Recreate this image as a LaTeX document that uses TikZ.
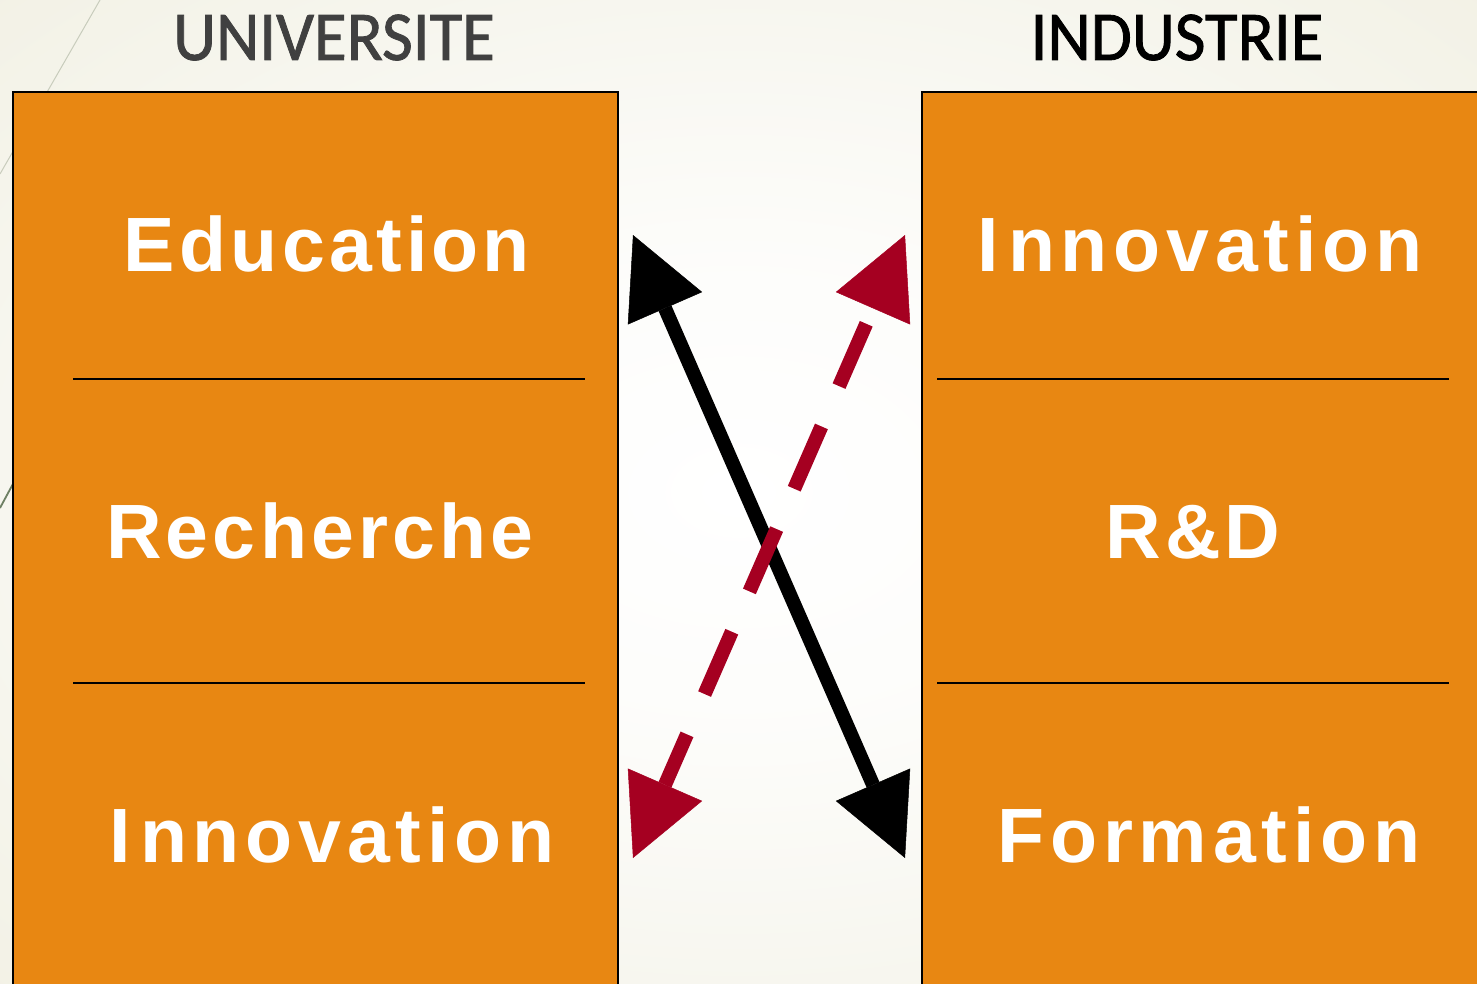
\documentclass[tikz,border=0pt]{standalone}
\usepackage{fontspec}
\setmainfont{Liberation Sans}
\newfontfamily\titlefont[FakeBold=1.2]{Carlito}
\newfontfamily\boxfont[LetterSpace=5.5]{Liberation Sans}
\newfontfamily\boxfontwide[LetterSpace=7.5]{Liberation Sans}
\usetikzlibrary{arrows.meta}
\definecolor{boxorange}{RGB}{232,135,18}
\definecolor{arrowred}{RGB}{165,0,33}
\definecolor{cream}{RGB}{231,229,207}
\definecolor{titlegray}{RGB}{64,64,64}
\definecolor{decoline}{RGB}{200,204,188}
\definecolor{decogreen}{RGB}{110,128,100}
\pgfdeclareradialshading{bgshade}{\pgfpoint{0bp}{0bp}}{color(0bp)=(white); color(12bp)=(white!90!cream); color(48bp)=(cream!75!white); color(72bp)=(cream)}
\tikzset{
  boxpanel/.style={fill=boxorange, draw=black, line width=1.6pt, anchor=north west, inner sep=0pt},
  divider/.style={draw=black, line width=1.3pt},
  boxlabel/.style={text=white, font=\boxfont\bfseries\fontsize{77}{80}\selectfont, anchor=base, inner sep=0pt},
  widelabel/.style={boxlabel, font=\boxfontwide\bfseries\fontsize{77}{80}\selectfont},
  titlelabel/.style={font=\titlefont\fontsize{70}{72}\selectfont, anchor=base, inner sep=0pt, xscale=0.955},
  linkarrow/.style={line width=14pt, {Triangle[length=80pt,width=81pt,line width'=0.5pt]}-{Triangle[length=80pt,width=81pt,line width'=0.5pt]}}
}
\begin{document}
\begin{tikzpicture}[x=1pt,y=-1pt]
\useasboundingbox (0,0) rectangle (1477,984);
\clip (0,0) rectangle (1477,984);
\shade[shading=bgshade] (0,0) rectangle (1477,984);
% decorative template lines
\draw[decoline, line width=1pt] (100,0) -- (0,174);
\draw[decogreen, line width=1.8pt] (14,482) -- (0,508);
% panels
\node[boxpanel, minimum width=605pt, minimum height=920pt] (uni) at (12,91) {};
\node[boxpanel, minimum width=570pt, minimum height=920pt] (ind) at (921,91) {};
\draw[divider] (73,379) -- (585,379);
\draw[divider] (73,683) -- (585,683);
\draw[divider] (937,379) -- (1449,379);
\draw[divider] (937,683) -- (1449,683);
% titles
\node[titlelabel, text=titlegray] (unititle) at (334,60) {UNIVERSITE};
\node[titlelabel, text=black] (indtitle) at (1177,60) {INDUSTRIE};
% labels
\node[boxlabel] (educ) at (327,272) {Education};
\node[boxlabel] (rech) at (320,558) {Recherche};
\node[widelabel] (innoL) at (332,862) {I\kern9pt nnovation};
\node[widelabel] (innoR) at (1200,272) {I\kern9pt nnovation};
\node[boxlabel] (rd) at (1193,558) {R\&D};
\node[widelabel] (form) at (1209,862) {Formation};
% arrows
\coordinate (bt) at (633,235);
\coordinate (bb) at (905,858);
\coordinate (rt) at (905,235);
\coordinate (rb) at (633,858);
\draw[linkarrow, black] (bt) -- (bb);
\draw[linkarrow, arrowred, dash pattern=on 68pt off 44pt, dash phase=95pt] (rt) -- (rb);
\end{tikzpicture}
\end{document}
